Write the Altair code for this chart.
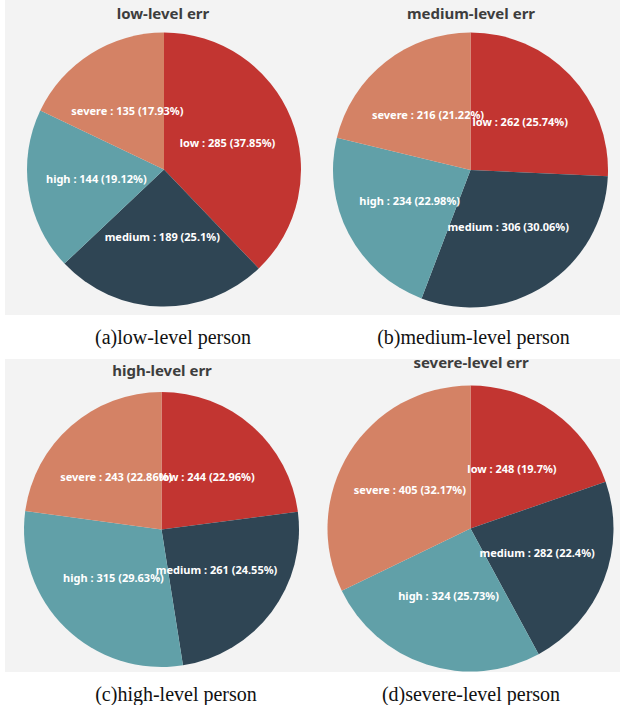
import altair as alt
import pandas as pd

categories = ["low", "medium", "high", "severe"]
colors = ["#c23531", "#2f4554", "#61a0a8", "#d48265"]

low_vals = [285, 189, 144, 135]
low_pcts = ["37.85%", "25.1%", "19.12%", "17.93%"]
med_vals = [262, 306, 234, 216]
med_pcts = ["25.74%", "30.06%", "22.98%", "21.22%"]
high_vals = [244, 261, 315, 243]
high_pcts = ["22.96%", "24.55%", "29.63%", "22.86%"]
sev_vals = [248, 282, 324, 405]
sev_pcts = ["19.7%", "22.4%", "25.73%", "32.17%"]

headings = ["low-level err", "medium-level err", "high-level err", "severe-level err"]
captions = ["(a)low-level person", "(b)medium-level person",
            "(c)high-level person", "(d)severe-level person"]


def panel(vals, pcts, heading, caption, w, h, cx, cy, r, hx, hy, cdx):
    df = pd.DataFrame({
        "cat": categories,
        "value": vals,
        "idx": list(range(len(categories))),
        "label": [f"{c} : {v} ({p})" for c, v, p in zip(categories, vals, pcts)],
    })
    base = alt.Chart(df).encode(
        theta=alt.Theta("value:Q", stack=True),
        order=alt.Order("idx:Q"),
        x=alt.value(cx),
        y=alt.value(cy),
    )
    arc = base.mark_arc(radius=r, strokeWidth=0).encode(
        color=alt.Color("cat:N", scale=alt.Scale(domain=categories, range=colors), legend=None)
    )
    text = base.mark_text(radius=r / 2, font="Noto Sans", fontSize=11,
                          fontWeight="bold", color="white", align="center",
                          baseline="middle").encode(text="label:N")
    head = alt.Chart(pd.DataFrame({"t": [heading]})).mark_text(
        font="Noto Sans", fontSize=15, fontWeight="bold", color="#3d3d3d",
        align="center", baseline="middle"
    ).encode(text="t:N", x=alt.value(hx), y=alt.value(hy))
    return alt.layer(arc, text, head).properties(
        width=w, height=h,
        title=alt.Title(caption, orient="bottom", anchor="middle", font="Liberation Serif",
                        fontSize=20, fontWeight="normal", color="#111111",
                        baseline="top", offset=13, dx=cdx),
    )


a = panel(low_vals, low_pcts, headings[0], captions[0], 305, 315, 159, 169.5, 137, 158, 13.5, 15.5)
b = panel(med_vals, med_pcts, headings[1], captions[1], 310, 315, 160.5, 170, 137.5, 161, 13.5, 8.5)
c = panel(high_vals, high_pcts, headings[2], captions[2], 305, 313, 156.5, 170.5, 137.5, 157, 12, 18.5)
d = panel(sev_vals, sev_pcts, headings[3], captions[3], 310, 313, 160.5, 169.5, 143, 161, 4, 6)

row1 = alt.hconcat(a, b, spacing=0)
row2 = alt.hconcat(c, d, spacing=0)
chart = alt.vconcat(row1, row2, spacing=8).properties(
    padding={"left": 5, "top": 0, "right": 0, "bottom": 0},
    background="white",
).configure_view(fill="#f3f3f3", strokeWidth=0)

chart.save("out.html", embed_options={"renderer": "svg", "actions": False})
